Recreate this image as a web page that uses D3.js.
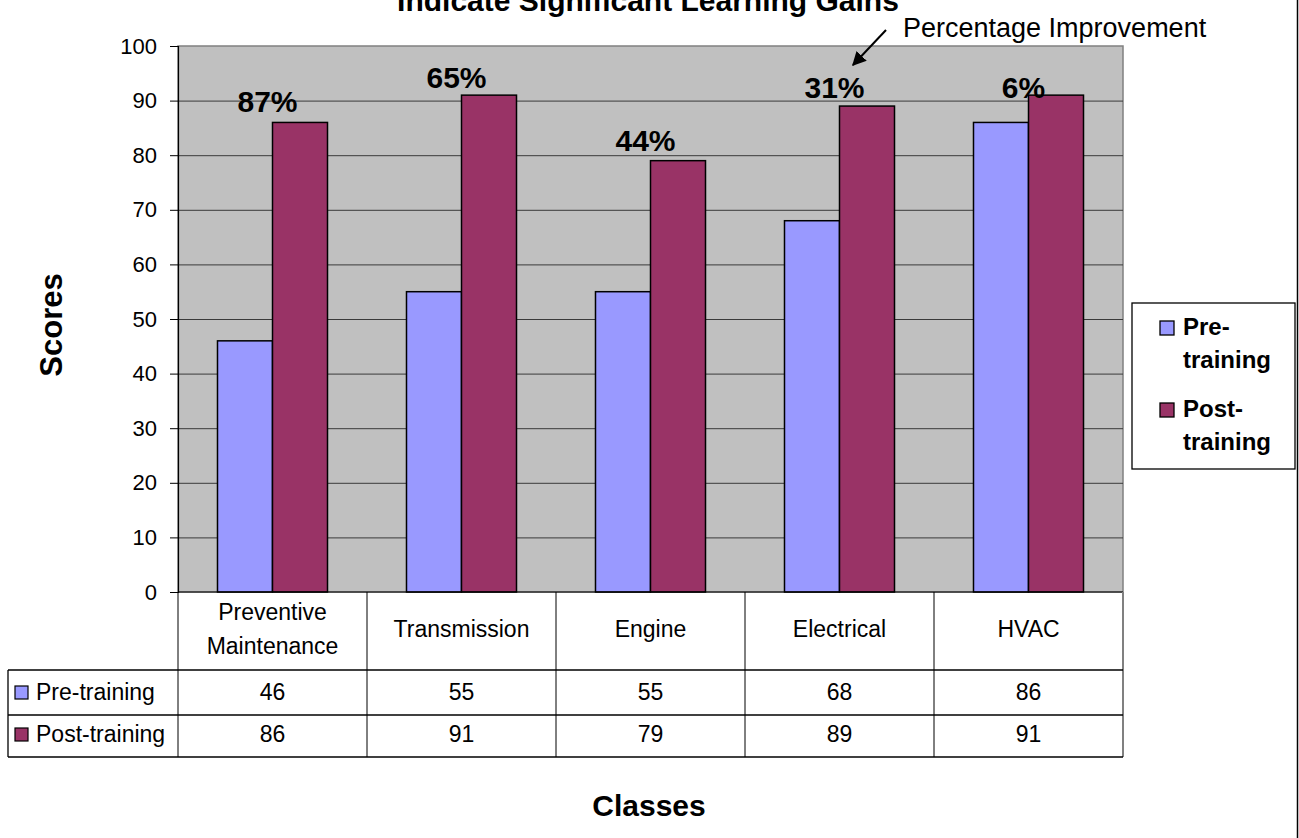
<!DOCTYPE html>
<html>
<head>
<meta charset="utf-8">
<script src="https://cdn.jsdelivr.net/npm/d3@7"></script>
<style>
  html, body { margin: 0; padding: 0; background: #fff; }
  svg { display: block; font-family: "Liberation Sans", Arial, sans-serif; }
</style>
</head>
<body>
<svg id="chart" width="1299" height="838"></svg>
<script>
// ---- data ----
const categories = ["Preventive Maintenance", "Transmission", "Engine", "Electrical", "HVAC"];
const categoryLines = [["Preventive", "Maintenance"], ["Transmission"], ["Engine"], ["Electrical"], ["HVAC"]];
const seriesNames = ["Pre-training", "Post-training"];
const preTraining = [46, 55, 55, 68, 86];
const postTraining = [86, 91, 79, 89, 91];
const yTicks = [0, 10, 20, 30, 40, 50, 60, 70, 80, 90, 100];
// vertical level (in score units) at which each improvement label sits
const labelLevels = [88, 92.3, 80.8, 90.5, 90.5];
const colors = ["#9999FF", "#993366"];
const titleText = "Indicate Significant Learning Gains";
const yTitle = "Scores";
const xTitle = "Classes";
const noteText = "Percentage Improvement";

// ---- layout ----
const svg = d3.select("#chart");
const plot = { left: 178, right: 1123, top: 46, bottom: 592 };

const x0 = d3.scaleBand().domain(categories).range([plot.left, plot.right]).paddingInner(0).paddingOuter(0);
const x1 = d3.scaleBand().domain(seriesNames).range([0, x0.bandwidth()]).paddingInner(0).paddingOuter(0.718);
const y = d3.scaleLinear().domain([0, 100]).range([plot.bottom, plot.top]);
const color = d3.scaleOrdinal().domain(seriesNames).range(colors);

const seriesData = [preTraining, postTraining];

// outer chart border (right edge visible)
svg.append("line").attr("x1", 1297.5).attr("x2", 1297.5).attr("y1", 0).attr("y2", 838)
  .attr("stroke", "#000").attr("stroke-width", 1.5);

// title (partly cut at top)
svg.append("text").attr("x", 648).attr("y", 11).attr("text-anchor", "middle")
  .attr("font-size", 30).attr("font-weight", "bold").text(titleText);

// plot background
svg.append("rect").attr("x", plot.left).attr("y", plot.top)
  .attr("width", plot.right - plot.left).attr("height", plot.bottom - plot.top)
  .attr("fill", "#C0C0C0").attr("stroke", "#808080").attr("stroke-width", 1.5);

// gridlines
const grid = svg.append("g").attr("transform", `translate(${plot.left},0)`)
  .call(d3.axisLeft(y).tickValues(yTicks.filter(d => d > 0 && d < 100)).tickSize(-(plot.right - plot.left)).tickFormat(""));
grid.select(".domain").remove();
grid.selectAll(".tick line").attr("stroke", "#3a3a3a").attr("stroke-width", 1);

// y axis
const yAxis = svg.append("g").attr("transform", `translate(${plot.left},0)`)
  .call(d3.axisLeft(y).tickValues(yTicks).tickSize(8).tickPadding(13));
yAxis.select(".domain").attr("stroke", "#000").attr("stroke-width", 1.2);
yAxis.selectAll(".tick line").attr("stroke", "#000");
yAxis.selectAll(".tick text").attr("font-size", 22).attr("fill", "#000")
  .attr("font-family", "Liberation Sans, Arial, sans-serif");

// bars
const groups = svg.append("g").selectAll("g").data(categories).join("g")
  .attr("transform", d => `translate(${x0(d)},0)`);
groups.selectAll("rect").data((d, i) => seriesNames.map((s, k) => ({ s, v: seriesData[k][i] }))).join("rect")
  .attr("x", d => x1(d.s)).attr("width", x1.bandwidth())
  .attr("y", d => y(d.v)).attr("height", d => y(0) - y(d.v))
  .attr("fill", d => color(d.s)).attr("stroke", "#000").attr("stroke-width", 1.5);

// improvement labels
svg.append("g").selectAll("text").data(categories).join("text")
  .attr("x", d => x0(d) + x0.bandwidth() / 2 - 5)
  .attr("y", (d, i) => y(labelLevels[i]))
  .attr("text-anchor", "middle").attr("font-size", 30).attr("font-weight", "bold")
  .text((d, i) => Math.round((postTraining[i] - preTraining[i]) / preTraining[i] * 100) + "%");

// annotation with arrow
const defs = svg.append("defs");
defs.append("marker").attr("id", "arrow").attr("viewBox", "0 0 10 10").attr("refX", 9).attr("refY", 5)
  .attr("markerWidth", 7).attr("markerHeight", 7).attr("orient", "auto-start-reverse")
  .append("path").attr("d", "M0,0 L10,5 L0,10 Z").attr("fill", "#000");
svg.append("line").attr("x1", 886).attr("y1", 30).attr("x2", 853).attr("y2", 65)
  .attr("stroke", "#000").attr("stroke-width", 2).attr("marker-end", "url(#arrow)");
svg.append("text").attr("x", 903).attr("y", 37).attr("font-size", 27).text(noteText);

// ---- data table ----
const table = { top: 592, rowTop: 670, mid: 715, bottom: 757, left: 8 };
const tg = svg.append("g");
// category header row
tg.append("line").attr("x1", plot.left).attr("x2", plot.right).attr("y1", table.top).attr("y2", table.top).attr("stroke", "#000");
categories.forEach((c, i) => {
  const lines = categoryLines[i];
  const cx = x0(c) + x0.bandwidth() / 2;
  const base = lines.length === 2 ? [620, 654] : [637];
  lines.forEach((ln, j) => {
    tg.append("text").attr("x", cx).attr("y", base[j]).attr("text-anchor", "middle").attr("font-size", 23).text(ln);
  });
});
// vertical separators
const bounds = categories.map(c => x0(c)).concat([plot.right]);
bounds.forEach((bx, i) => {
  tg.append("line").attr("x1", bx).attr("x2", bx).attr("y1", table.top).attr("y2", table.bottom)
    .attr("stroke", i === bounds.length - 1 ? "#808080" : "#000").attr("stroke-width", i === bounds.length - 1 ? 2 : 1);
});
// horizontal row lines
[table.rowTop, table.mid, table.bottom].forEach(yy => {
  tg.append("line").attr("x1", table.left).attr("x2", plot.right).attr("y1", yy).attr("y2", yy).attr("stroke", "#000").attr("stroke-width", 1.3);
});
tg.append("line").attr("x1", table.left).attr("x2", table.left).attr("y1", table.rowTop).attr("y2", table.bottom).attr("stroke", "#000").attr("stroke-width", 1.3);
// rows
const rowBase = [700, 742];
seriesNames.forEach((s, k) => {
  tg.append("rect").attr("x", 15).attr("y", rowBase[k] - 14).attr("width", 13).attr("height", 13)
    .attr("fill", color(s)).attr("stroke", "#000").attr("stroke-width", 1.2);
  tg.append("text").attr("x", 36).attr("y", rowBase[k]).attr("font-size", 23).text(s);
  categories.forEach((c, i) => {
    tg.append("text").attr("x", x0(c) + x0.bandwidth() / 2).attr("y", rowBase[k])
      .attr("text-anchor", "middle").attr("font-size", 23).text(seriesData[k][i]);
  });
});

// axis titles
svg.append("text").attr("transform", "translate(62,325) rotate(-90)").attr("text-anchor", "middle")
  .attr("font-size", 31).attr("font-weight", "bold").text(yTitle);
svg.append("text").attr("x", 649).attr("y", 816).attr("text-anchor", "middle")
  .attr("font-size", 30).attr("font-weight", "bold").text(xTitle);

// legend
const lg = svg.append("g");
lg.append("rect").attr("x", 1132).attr("y", 303).attr("width", 163).attr("height", 166)
  .attr("fill", "#fff").attr("stroke", "#000").attr("stroke-width", 1.3);
const legendLines = [["Pre-", "training"], ["Post-", "training"]];
const legendTop = [335, 417];
seriesNames.forEach((s, k) => {
  lg.append("rect").attr("x", 1160).attr("y", legendTop[k] - 14).attr("width", 14).attr("height", 14)
    .attr("fill", color(s)).attr("stroke", "#000").attr("stroke-width", 1.3);
  legendLines[k].forEach((ln, j) => {
    lg.append("text").attr("x", 1183).attr("y", legendTop[k] + j * 33).attr("font-size", 24)
      .attr("font-weight", "bold").text(ln);
  });
});
</script>
</body>
</html>
